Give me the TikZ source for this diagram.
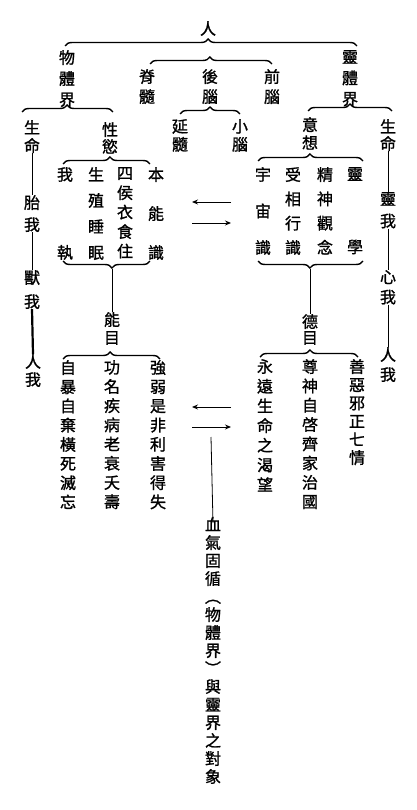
\documentclass[tikz,border=0pt]{standalone}
\usepackage{fontspec}
\newfontfamily\cjk[FakeBold=1.2]{Noto Sans CJK TC}
\usetikzlibrary{decorations.pathreplacing,arrows.meta}
\tikzset{
  cj/.style={font=\cjk\fontsize{16}{#1}\selectfont, align=center, inner sep=0pt, anchor=north},
  br/.style={decorate, decoration={brace, amplitude=7pt, aspect=#1}, line width=1.4pt},
  ln/.style={line width=0.8pt},
  thk/.style={line width=2.2pt},
  arr/.style={line width=0.9pt, -{Stealth[length=6pt,width=5pt]}}
}
\begin{document}
\begin{tikzpicture}[x=1pt,y=-1pt]
\useasboundingbox (0,0) rectangle (416,810);
% top level
\node[cj=18] (ren) at (208,21) {人};
\node[cj=21] (wt) at (67,50) {物\\體\\界};
\node[cj=21] (lt) at (350,50) {靈\\體\\界};
\node[cj=20] (jisui) at (147,69) {脊\\髓};
\node[cj=20] (houn) at (210,69) {後\\腦};
\node[cj=20] (qian) at (272,69) {前\\腦};
\node[cj=18] (smL) at (32,120) {生\\命};
\node[cj=17] (xy) at (110,122) {性\\慾};
\node[cj=18] (ys) at (180,119) {延\\髓};
\node[cj=18] (xn) at (240,119) {小\\腦};
\node[cj=18] (yx) at (310,117) {意\\想};
\node[cj=17] (smR) at (388,119) {生\\命};
% braces
\coordinate (b1l) at (65,46);   \coordinate (b1r) at (357,46);
\coordinate (b2l) at (150,64);  \coordinate (b2r) at (272,64);
\coordinate (b3l) at (180,114); \coordinate (b3r) at (240,114);
\coordinate (b4l) at (22,112);  \coordinate (b4r) at (113,112);
\coordinate (b5l) at (308,111); \coordinate (b5r) at (392,111);
\coordinate (b6l) at (63,164);  \coordinate (b6r) at (150,164);
\coordinate (b7l) at (63,261);  \coordinate (b7r) at (150,261);
\coordinate (b8l) at (258,161); \coordinate (b8r) at (363,161);
\coordinate (b9l) at (258,261); \coordinate (b9r) at (363,261);
\coordinate (b10l) at (63,359); \coordinate (b10r) at (160,359);
\coordinate (b11l) at (260,357);\coordinate (b11r) at (358,357);
\draw[br=0.49] (b1l) -- (b1r);
\draw[br=0.49] (b2l) -- (b2r);
\draw[br=0.5] (b3l) -- (b3r);
\draw[br=0.495] (b4l) -- (b4r);
\draw[br=0.5] (b5l) -- (b5r);
\draw[br=0.54] (b6l) -- (b6r);
\draw[br=0.437] (b7r) -- (b7l);
\draw[br=0.495] (b8l) -- (b8r);
\draw[br=0.505] (b9r) -- (b9l);
\draw[br=0.485] (b10l) -- (b10r);
\draw[br=0.51] (b11l) -- (b11r);
% left box
\node[cj=39] (c1) at (156,167) {本\\能\\識};
\node[cj=19.5] (c2) at (125,167) {四\\侯\\衣\\食\\住};
\node[cj=26] (c3) at (96,167) {生\\殖\\睡\\眠};
\node[cj=78] (c4) at (65,167) {我\\執};
% right box
\node[cj=73] (d1) at (355,167) {靈\\學};
\node[cj=24.3] (d2) at (325,167) {精\\神\\觀\\念};
\node[cj=24.3] (d3) at (293,167) {受\\相\\行\\識};
\node[cj=36.5] (d4) at (263,167) {宇\\宙\\識};
% 目
\node[cj=18] (nm) at (112,312) {能\\目};
\node[cj=16] (dm) at (310,314) {德\\目};
\coordinate (lbt) at (112,269);
\coordinate (rbt) at (310,269);
\draw[ln] (lbt) -- (nm.north);
\draw[ln] (rbt) -- (dm.north);
% bottom columns
\node[cj=19.2] (e1) at (158,360) {強\\弱\\是\\非\\利\\害\\得\\失};
\node[cj=19.2] (e2) at (112,360) {功\\名\\疾\\病\\老\\衰\\夭\\壽};
\node[cj=19.2] (e3) at (68,360) {自\\暴\\自\\棄\\橫\\死\\滅\\忘};
\node[cj=18.2] (f1) at (357,359) {善\\惡\\邪\\正\\七\\情};
\node[cj=19.3] (f2) at (310,359) {尊\\神\\自\\啓\\齊\\家\\治\\國};
\node[cj=19.7] (f3) at (265,359) {永\\遠\\生\\命\\之\\渴\\望};
% chains
\node[cj=22] (tw) at (32,195) {胎\\我};
\node[cj=24] (sw) at (32,270) {獸\\我};
\node[cj=18] (rwL) at (33,354) {人\\我};
\node[cj=22] (lw) at (388,192) {靈\\我};
\node[cj=20] (xw) at (388,270) {心\\我};
\node[cj=20] (rwR) at (388,347) {人\\我};
\draw[ln] (smL.south) -- (tw.north);
\draw[ln] (tw.south) -- (sw.north);
\draw[thk] (sw.south) -- (rwL.north);
\draw[ln] (smR.south) -- (lw.north);
\draw[ln] (lw.south) -- (xw.north);
\draw[ln] (xw.south) -- (rwR.north);
% arrows
\coordinate (a1l) at (192,202); \coordinate (a1r) at (231,202);
\coordinate (a2l) at (192,223); \coordinate (a2r) at (231,223);
\coordinate (a3l) at (192,407); \coordinate (a3r) at (231,407);
\coordinate (a4l) at (192,427); \coordinate (a4r) at (231,427);
\draw[arr] (a1r) -- (a1l);
\draw[arr] (a2l) -- (a2r);
\draw[arr] (a3r) -- (a3l);
\draw[arr] (a4l) -- (a4r);
% bottom text
\node[cj=18] (xq) at (213,517) {血\\氣\\固\\循\\︵\\物\\體\\界\\︶\\與\\靈\\界\\之\\對\\象};
\coordinate (vl) at (211,437);
\draw[ln] (vl) -- ([yshift=-6pt]xq.north);
\end{tikzpicture}
\end{document}
